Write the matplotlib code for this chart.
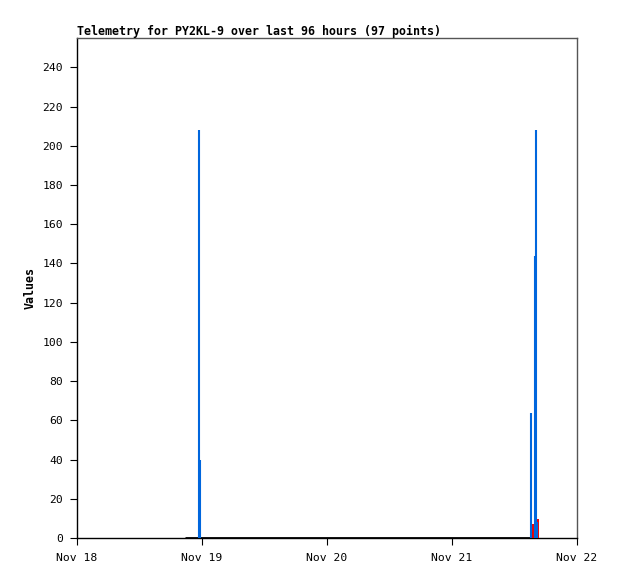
import matplotlib
matplotlib.use("Agg")
import matplotlib.pyplot as plt
import matplotlib.dates as mdates
from datetime import datetime, timedelta

start = datetime(2023, 11, 18)
def t(d):
    return start + timedelta(days=d)

# Series (time in days since Nov 18 00:00)
blue_times = [0.976, 0.984, 3.632, 3.664, 3.672, 3.678]
blue_values = [208, 40, 64, 144, 208, 8]
red_times = [3.642, 3.648, 3.686]
red_values = [3, 7, 9.5]
zero_times = [0.864, 3.650]
zero_values = [0, 0]
yticks = list(range(0, 241, 20))
xtick_days = [0, 1, 2, 3, 4]

plt.rcParams['font.family'] = ['DejaVu Sans Mono']
fig = plt.figure(figsize=(6.18, 5.79), dpi=100)
ax = fig.add_axes([77/618, 41/579, 500/618, 500/579])

ax.plot([t(d) for d in zero_times], zero_values, color='black', lw=2, solid_capstyle='butt', zorder=2)
ax.vlines([t(d) for d in red_times], 0, red_values, color='#ee0000', lw=1.4, zorder=3)
ax.vlines([t(d) for d in blue_times], 0, blue_values, color='#0066dd', lw=1.5, zorder=4)

ax.set_xlim(t(0), t(4))
ax.set_ylim(0, 255)
ax.set_yticks(yticks)
ax.set_xticks([t(d) for d in xtick_days])
ax.xaxis.set_major_formatter(mdates.DateFormatter('%b %d'))
ax.tick_params(axis='both', labelsize=8.2, length=5, direction='out', colors='black')
ax.tick_params(axis='y', pad=5)
ax.tick_params(axis='x', pad=6)
for s in ['top', 'right']:
    ax.spines[s].set_color('#555555')
ax.spines['left'].set_color('black')
ax.spines['bottom'].set_color('black')
for s in ax.spines.values():
    s.set_linewidth(1)
ax.set_ylabel('Values', fontsize=8.4, fontweight='bold', labelpad=4)
ax.set_title('Telemetry for PY2KL-9 over last 96 hours (97 points)', loc='left',
             fontsize=8.4, fontweight='bold', pad=2)
fig.savefig('out.png', dpi=100)
